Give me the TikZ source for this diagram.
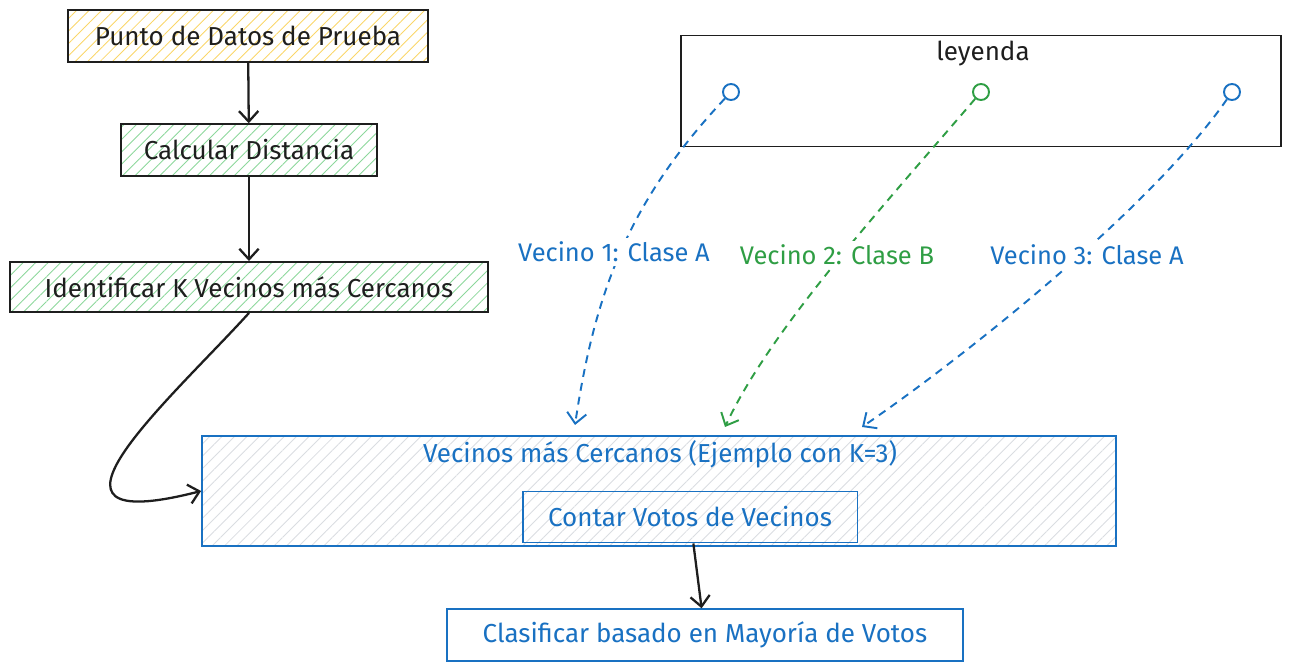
\documentclass[tikz,border=0pt]{standalone}
\usepackage{fontspec}
\setmainfont{Fira Sans}
\usetikzlibrary{arrows.meta,patterns.meta}
\definecolor{cazul}{RGB}{25,113,194}
\definecolor{cverde}{RGB}{47,158,68}
\definecolor{camarillo}{RGB}{250,214,105}
\definecolor{cmenta}{RGB}{140,215,155}
\definecolor{cgris}{RGB}{218,221,225}
\definecolor{ctinta}{RGB}{30,30,30}

\begin{document}
\begin{tikzpicture}[x=0.02cm, y=-0.02cm, >={Straight Barb[length=6pt,width=11pt]},
  caja/.style={draw=ctinta, line width=1.1pt, inner sep=0pt, minimum height=1.03cm,
    font=\fontsize{14.8}{17}\selectfont, text=ctinta},
  rayas/.style={pattern={Lines[angle=45,distance=5pt,line width=0.5pt]}, pattern color=#1},
  cajaazul/.style={caja, draw=cazul, text=cazul},
  punto/.style={circle, draw=#1, line width=1.1pt, minimum size=0.32cm, inner sep=0pt},
  flecha/.style={->, draw=ctinta, line width=1.3pt},
  vecino/.style={->, draw=#1, line width=1.1pt, dash pattern=on 4.5pt off 3.5pt},
  etiq/.style={fill=white, inner sep=2pt, font=\fontsize{14.5}{17}\selectfont, text=#1}]
\useasboundingbox (0,0) rectangle (1292,671);

\node[caja, rayas=camarillo, minimum width=7.2cm] (pdp) at (248,36) {Punto de Datos de Prueba};
\node[caja, rayas=cmenta, minimum width=5.12cm] (cd) at (249,150) {Calcular Distancia};
\node[caja, rayas=cmenta, minimum width=9.58cm, minimum height=1cm] (ikv) at (249,287) {Identificar K Vecinos más Cercanos};

\node[cajaazul, rayas=cgris, minimum width=18.28cm, minimum height=2.2cm] (vmc) at (659,491) {};
\node[font=\fontsize{14.8}{17}\selectfont, text=cazul] (vmct) at (660,454) {Vecinos más Cercanos (Ejemplo con K=3)};
\node[cajaazul, minimum width=6.7cm, minimum height=1.02cm] (cvv) at (690,517) {Contar Votos de Vecinos};
\node[cajaazul, fill=white, minimum width=10.34cm] (cbm) at (705,635) {Clasificar basado en Mayoría de Votos};

\node[caja, minimum width=12cm, minimum height=2.22cm] (ley) at (981,91) {};
\node[font=\fontsize{14.8}{17}\selectfont, text=ctinta] (leyt) at (983,54) {leyenda};
\foreach \c/\col/\x in {c1/cazul/731, c2/cverde/981, c3/cazul/1232}
  {\node[punto=\col] (\c) at (\x,92) {};}

\coordinate (a1) at (575,425); \coordinate (a2) at (725,427); \coordinate (a3) at (862,427);

\draw[flecha] (pdp) -- (cd);
\draw[flecha] (cd) -- (ikv);
\draw[flecha] (ikv.south) .. controls (170,400) and (10,540) .. (vmc.west);
\draw[flecha] (cvv) -- (cbm);

\draw[vecino=cazul] (c1) .. controls (630,200) and (595,290) .. (a1);
\draw[vecino=cverde] (c2) .. controls (880,210) and (770,330) .. (a2);
\draw[vecino=cazul] (c3) .. controls (1150,210) and (960,360) .. (a3);

\node[etiq=cazul] (v1) at (614,252) {Vecino 1: Clase A};
\node[etiq=cverde] (v2) at (837,255) {Vecino 2: Clase B};
\node[etiq=cazul] (v3) at (1087,255) {Vecino 3: Clase A};
\end{tikzpicture}
\end{document}
